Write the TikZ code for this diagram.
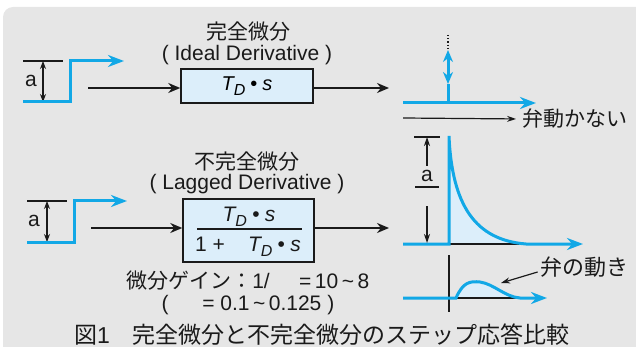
\documentclass[tikz,border=0pt]{standalone}
\usepackage{fontspec}
\setmainfont{Liberation Sans}
\newfontfamily\jp{Noto Sans CJK JP}
\usetikzlibrary{arrows.meta}
\definecolor{cBg}{HTML}{E6E6E6}
\definecolor{cSig}{HTML}{12A8E6}
\definecolor{cFill}{HTML}{DCEEFA}
\definecolor{cInk}{HTML}{1A1A1A}
\newcommand{\TD}{\textit{T}\kern-0.06em\raisebox{-0.45ex}{\footnotesize\textit{D}}}
\newcommand{\TDs}{\TD\hspace{0.25em}\textbullet\hspace{0.25em}\textit{s}}

\begin{document}
\begin{tikzpicture}[
    x=0.5pt, y=-0.5pt,
    lbl/.style={inner sep=0pt, text=cInk, font=\fontsize{10.5}{12}\selectfont},
    jlbl/.style={inner sep=0pt, text=cInk, font=\jp\fontsize{10.5}{12}\selectfont},
    blk/.style={draw=cInk, line width=0.75pt, fill=cFill, inner sep=0pt},
    arr/.style={-{Stealth[length=6pt,width=5pt]}, line width=1pt, cInk},
    thinarr/.style={-{Stealth[length=4.5pt,width=3pt]}, line width=0.6pt, cInk},
    dimarr/.style={{Stealth[length=4pt,width=3pt]}-{Stealth[length=4pt,width=3pt]}, line width=0.6pt, cInk},
    tick/.style={cInk, line width=0.6pt},
    sig/.style={cSig, line width=1.5pt},
    sigarr/.style={sig, -{Stealth[length=8pt,width=6pt]}}
]
\useasboundingbox (0,0) rectangle (636,347);
\fill[cBg, rounded corners=5pt] (3,7) rectangle (660,370);

% ideal derivative
\draw[tick] (23,61) -- (63,61);
\draw[dimarr] (43,61) -- (43,102);
\node[lbl] (a1) at (31,81) {a};
\draw[sigarr] (23,102) -- (70,102) -- (70,61) -- (124,61);

\coordinate (in1) at (88,88);
\node[blk, minimum width=66pt, minimum height=17pt] (box1) at (247,86) {\TDs};
\coordinate (out1) at (389,88);
\draw[arr] (in1) -- (in1 -| box1.west);
\draw[arr] (box1.east |- out1) -- (out1);
\node[lbl] (sub1) at (247,55) {( Ideal Derivative )};
\node[jlbl] (ttl1) at (248,32) {完全微分};

\draw[sigarr] (403,103) -- (536,103);
\draw[sig, {Stealth[length=6pt,width=5pt]}-{Stealth[length=6pt,width=5pt]}] (448,50) -- (448,84);
\draw[sig] (448,84) -- (448,103);
\draw[tick, densely dotted] (448,35) -- (448,50);
\coordinate (nm0) at (403,118);
\node[jlbl, anchor=west] (nomove) at (522,119) {弁動かない};
\draw[thinarr, shorten >=3pt] (nm0) -- (nomove.west);

% lagged derivative
\draw[tick] (27,201) -- (67,201);
\draw[dimarr] (47,201) -- (47,242);
\node[lbl] (a2) at (34,221) {a};
\draw[sigarr] (27,242) -- (74,242) -- (74,201) -- (127,201);

\coordinate (in2) at (91,228);
\node[blk, minimum width=65.5pt, minimum height=31.5pt] (box2) at (248.5,230.5) {};
\coordinate (out2) at (389,228);
\draw[arr] (in2) -- (in2 -| box2.west);
\draw[arr] (box2.east |- out2) -- (out2);
\node[lbl] (num2) at (249,217) {\TDs};
\node[lbl] (den2) at (248,247) {1 +\hspace{1.1em}\TDs};
\draw[cInk, line width=0.75pt] (197,229) -- (302,229);
\node[lbl] (sub2) at (247,184) {( Lagged Derivative )};
\node[jlbl] (ttl2) at (247,162) {不完全微分};

\fill[cFill] (449,244) -- (449,136) .. controls (452,205) and (475,240) .. (526,244) -- cycle;
\draw[tick] (449,244) -- (526,244);
\draw[sigarr] (403,244) -- (449,244) -- (449,136) .. controls (452,205) and (475,240) .. (526,244) -- (583,244);
\coordinate (atop) at (427,137);
\coordinate (abot) at (427,243);
\draw[tick] (414,137) -- (440,137);
\node[lbl] (a3) at (427,176) {a};
\draw[tick] (415,187) -- (439,187);
\draw[thinarr] ([yshift=2pt]a3.north) -- (atop);
\draw[thinarr] ([yshift=-12pt]a3.south) -- (abot);

\draw[tick] (449,255) -- (449,312);
\fill[cFill] (456,298) .. controls (463,282) and (470,281) .. (480,282) .. controls (494,284) and (505,297) .. (520,298) -- cycle;
\draw[tick] (456,298) -- (520,298);
\draw[sigarr] (403,298) -- (456,298) .. controls (463,282) and (470,281) .. (480,282) .. controls (494,284) and (505,297) .. (520,298) -- (547,298);
\node[jlbl, font=\jp\fontsize{11}{12}\selectfont] (valve) at (584,267) {弁の動き};
\coordinate (bump) at (501,283);
\draw[thinarr] ([shift={(-1pt,-2.5pt)}]valve.west) -- (bump);

% gain and caption
\node[lbl] (gain) at (248,281) {{\jp 微分ゲイン：}1/\hspace{1.4em}=\,10\,\textasciitilde\,8};
\node[lbl] (ratio) at (248,305) {(\hspace{1.6em}=\ 0.1\,\textasciitilde\,0.125 )};
\node[lbl, font=\fontsize{11.5}{13}\selectfont] (cap) at (322,335) {{\jp 図}1{\jp 　完全微分と不完全微分のステップ応答比較}};
\end{tikzpicture}
\end{document}
